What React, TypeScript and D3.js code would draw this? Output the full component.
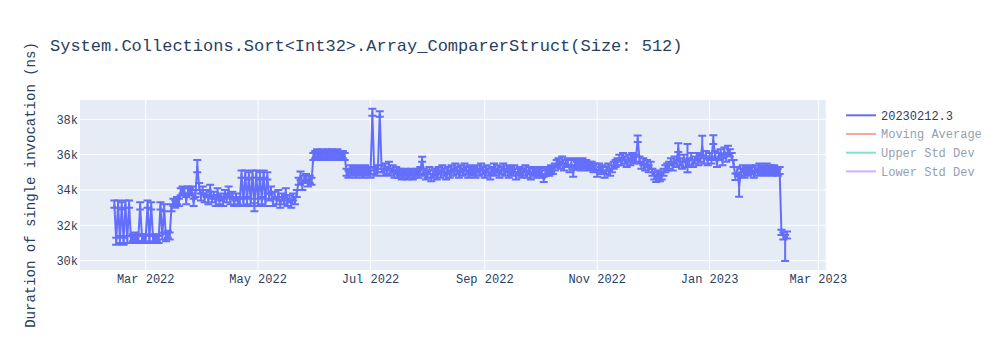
import React from 'react';
import * as d3 from 'd3';

const chartTitle = 'System.Collections.Sort<Int32>.Array_ComparerStruct(Size: 512)';
const yAxisTitle = 'Duration of single invocation (ns)';
const legendNames = ['20230212.3', 'Moving Average', 'Upper Std Dev', 'Lower Std Dev'];
const legendColors = ['#636efa', '#EF553B', '#00cc96', '#ab63fa'];
const legendActive = [true, false, false, false];

// one run per day starting at this date
const startDate = '2022-02-12';
const values = [
  33200, 31100, 33200, 31200, 33100, 31100, 33200, 31200, 33200,
  31200, 31300, 31400, 31200, 31300, 33100, 31300, 31200, 31300, 33200, 31200, 33100, 31300, 31200, 31300, 31200, 33100, 31400, 33000, 31300, 31500, 31400, 33000,
  33300, 33200, 33400, 33300, 33900,
  34000, 33900, 33400, 34000, 33900, 34000, 33300, 33800,
  35350,
  34200, 33600, 34000, 33500, 33800, 33400, 34100, 33500, 33700, 33300, 33900, 33400, 33600, 33300, 33800, 33500, 34000, 33400, 33700, 33300, 33600, 33400,
  33300, 34900, 33300, 34900, 33400, 34800, 33300, 34900, 33100, 34900, 33300, 34800, 33400, 34900, 33300, 34800,
  33600, 34000, 33300, 33700, 33400, 33800, 33200, 33600, 33400, 33900, 33300, 33500, 33200, 33600, 33400, 33800,
  34500, 34800, 34200, 34600, 34700, 34400, 34600, 34500, 35900,
  36000, 36100, 35900, 36000, 36100, 36000, 35900, 36100, 36000, 36100, 35900, 36000, 36100, 36000, 35900, 36000, 35900,
  35000, 34900, 35200, 35000, 35100, 34900, 35200, 35000, 35100, 34900, 35200, 35000, 35100, 34900,
  38400,
  35100, 35000, 35200,
  38300,
  35200, 35000, 35300, 35100, 35400, 35000, 35200, 34900, 35100,
  34900, 35000, 34800, 34900, 35000, 34800, 34900, 35000, 34800, 34900, 35000, 34900, 35100,
  35740,
  35000, 34800, 34900, 35100, 34700, 34900, 35000, 34800, 35100, 34900,
  35200, 35000, 34800, 35100, 34900, 35200, 35000, 35300, 35100, 34900,
  35200, 35000, 35300, 35100, 34900, 35200, 35000, 35100, 34900, 35200,
  35000, 35300, 35100, 34900, 35200, 35000, 34800, 35100, 35300, 35000,
  35200, 34900, 35100, 35300, 35000, 35200, 34900, 35100, 35000, 35200,
  34800, 35000, 35100, 34900, 35000, 35200, 34900, 35100, 34800, 35000,
  35100, 34900, 35000, 35100, 34900, 34600, 35000, 35100, 35000, 35200,
  35100, 35300, 35500,
  35600, 35400, 35700, 35300, 35500, 35600, 35200, 35500, 34950, 35600, 35400, 35500, 35300, 35600, 35400, 35500, 35300, 35400,
  35400, 35200, 35300, 34950, 35300, 35100, 35200, 34900, 35100, 35300, 35000, 35200, 35400, 35500, 35600,
  35800, 35600, 35900, 35700, 35500, 35800, 35600, 35900, 35700, 35800,
  36900,
  35700, 35400, 35600, 35300, 35500, 35200, 35400, 35000,
  34800, 34650, 34900, 34700, 34800, 35000, 35200, 35300,
  35400, 35600, 35300, 35700, 35500,
  36400,
  35600, 35400, 35800, 35500,
  35800,
  35600, 35900, 35500, 35700, 35900, 35600, 35800,
  36500,
  35700, 36000, 35600, 35900, 35700,
  36850,
  36000, 35500, 35900, 36100, 35600, 36200, 35800, 36300, 36100, 35900, 35500,
  34750,
  35100,
  34200,
  35000, 35200, 34900, 35100, 35000, 35200, 35100, 34900, 35200, 35000, 35300, 35100, 35200, 35000, 35300, 35100, 35200, 35000, 35200, 35100, 35000, 35100,
  31600,
  31400, 31300, 31450,
];

// error bar half-size (ns) for most runs, and the runs whose bars read differently: [day, plus, minus]
const defaultError = 200;
const errorOverrides: [number, number, number][] = [
  [45, 350, 350], [76, 150, 300], [101, 250, 250], [140, 200, 200], [144, 150, 150],
  [167, 140, 140], [233, 150, 150], [284, 190, 190], [306, 250, 250], [311, 800, 800],
  [319, 570, 570], [325, 250, 250], [337, 190, 190], [339, 580, 580], [362, 150, 150], [364, 150, 1320],
];

const xTickDates = ['2022-03-01', '2022-05-01', '2022-07-01', '2022-09-01', '2022-11-01', '2023-01-01', '2023-03-01'];
const xTickLabels = ['Mar 2022', 'May 2022', 'Jul 2022', 'Sep 2022', 'Nov 2022', 'Jan 2023', 'Mar 2023'];
const yTicks = [30000, 32000, 34000, 36000, 38000];
const yTickLabels = ['30k', '32k', '34k', '36k', '38k'];
const xDomain = ['2022-01-24T08:24:00Z', '2023-03-05T00:00:00Z'];
const yDomain = [29474, 39092];

const W = 1000;
const H = 350;
const plot = { left: 80, right: 825.7, top: 100, bottom: 270 };
const FONT = "'Courier New', 'Liberation Mono', monospace";
const TEXT = '#2a3f5f';

export default function App() {
  const x = d3.scaleUtc().domain(xDomain.map((d) => new Date(d))).range([plot.left, plot.right]);
  const y = d3.scaleLinear().domain(yDomain).range([plot.bottom, plot.top]);
  const start = new Date(startDate + 'T00:00:00Z').getTime();
  const points = values.map((v, i) => {
    const o = errorOverrides.find((e) => e[0] === i);
    return {
      date: new Date(start + i * 86400000),
      v,
      plus: o ? o[1] : defaultError,
      minus: o ? o[2] : defaultError,
    };
  });
  const line = d3
    .line<(typeof points)[number]>()
    .x((d) => x(d.date))
    .y((d) => y(d.v));
  const color = legendColors[0];
  const legendY0 = 115.3;
  const legendStep = 18.7;

  return (
    <svg width={W} height={H} style={{ position: 'absolute', left: 0, top: 0, background: '#fff' }} fontFamily={FONT}>
      <defs>
        <clipPath id="plotclip">
          <rect x={plot.left} y={plot.top} width={plot.right - plot.left} height={plot.bottom - plot.top} />
        </clipPath>
      </defs>
      <rect x={plot.left} y={plot.top} width={plot.right - plot.left} height={plot.bottom - plot.top} fill="#E5ECF6" />
      {xTickDates.map((d) => (
        <line key={d} x1={x(new Date(d))} x2={x(new Date(d))} y1={plot.top} y2={plot.bottom} stroke="#fff" strokeWidth={1} />
      ))}
      {yTicks.map((t) => (
        <line key={t} x1={plot.left} x2={plot.right} y1={y(t)} y2={y(t)} stroke="#fff" strokeWidth={1} />
      ))}
      <g clipPath="url(#plotclip)">
        <g stroke={color} strokeWidth={2} fill="none">
          {points.map((p, i) => {
            const cx = x(p.date);
            const yt = y(p.v + p.plus);
            const yb = y(p.v - p.minus);
            return (
              <path key={i} d={`M${cx},${yt}V${yb}M${cx - 4},${yt}h8M${cx - 4},${yb}h8`} />
            );
          })}
        </g>
        <path d={line(points) || ''} fill="none" stroke={color} strokeWidth={2} strokeLinejoin="round" />
      </g>
      {xTickDates.map((d, i) => (
        <text key={d} x={x(new Date(d))} y={279} dy="0.35em" textAnchor="middle" fontSize={12} fill={TEXT}>
          {xTickLabels[i]}
        </text>
      ))}
      {yTicks.map((t, i) => (
        <text key={t} x={78} y={y(t)} dy="0.35em" textAnchor="end" fontSize={12} fill={TEXT}>
          {yTickLabels[i]}
        </text>
      ))}
      <text x={50} y={45} dy="0.35em" fontSize={17} fill={TEXT}>
        {chartTitle}
      </text>
      <text
        transform={`translate(30,${(plot.top + plot.bottom) / 2}) rotate(-90)`}
        dy="0.35em"
        textAnchor="middle"
        fontSize={14}
        fill={TEXT}
      >
        {yAxisTitle}
      </text>
      {legendNames.map((n, i) => {
        const ly = legendY0 + i * legendStep;
        return (
          <g key={n} opacity={legendActive[i] ? 1 : 0.5}>
            <line x1={846} x2={876} y1={ly} y2={ly} stroke={legendColors[i]} strokeWidth={2} />
            <text x={881} y={ly} dy="0.35em" fontSize={12} fill={TEXT}>
              {n}
            </text>
          </g>
        );
      })}
    </svg>
  );
}
